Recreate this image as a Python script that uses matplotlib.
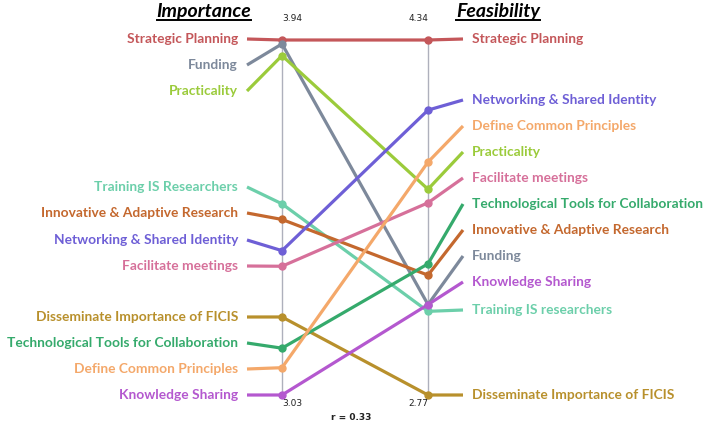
import matplotlib
matplotlib.use("Agg")
import matplotlib.pyplot as plt
from matplotlib.lines import Line2D

# ---- data ----
categories = ["Strategic Planning", "Funding", "Practicality", "Training IS Researchers",
              "Innovative & Adaptive Research", "Networking & Shared Identity",
              "Facilitate meetings", "Disseminate Importance of FICIS",
              "Technological Tools for Collaboration", "Define Common Principles",
              "Knowledge Sharing"]
right_names = ["Strategic Planning", "Funding", "Practicality", "Training IS researchers",
               "Innovative & Adaptive Research", "Networking & Shared Identity",
               "Facilitate meetings", "Disseminate Importance of FICIS",
               "Technological Tools for Collaboration", "Define Common Principles",
               "Knowledge Sharing"]
importance = [3.94, 3.93, 3.90, 3.52, 3.48, 3.40, 3.36, 3.23, 3.15, 3.10, 3.03]
feasibility = [4.34, 3.17, 3.68, 3.14, 3.30, 4.03, 3.62, 2.77, 3.35, 3.80, 3.17]
r_value = 0.33

colors = ["#C4575A", "#7D899B", "#9BCB3B", "#6CCFAA", "#C4682E", "#6E5FD6",
          "#D6709A", "#B8902C", "#35AA6C", "#F4A86A", "#B458CF"]

# ---- layout (text label rows, in pixels from top) ----
left_label_px = [39, 65, 91, 187, 213, 240, 266, 317, 343, 369, 395]
right_label_px = [39, 256, 152, 310, 230, 100, 178, 395, 204, 126, 282]

W, H = 708, 422
fig = plt.figure(figsize=(W / 100, H / 100), dpi=100)
axL, axR, ytop, ybot = 282, 428, 40, 395
ax = fig.add_axes([axL / W, (H - ybot) / H, (axR - axL) / W, (ybot - ytop) / H])
ax.set_xlim(0, 1)
ax.set_ylim(0, 1)
ax.axis("off")

lmin, lmax = min(importance), max(importance)
rmin, rmax = min(feasibility), max(feasibility)
def nl(v): return (v - lmin) / (lmax - lmin)
def nr(v): return (v - rmin) / (rmax - rmin)
def px2y(p): return (ybot - p) / (ybot - ytop)

pxw = axR - axL
stub = 35 / pxw
gap = 9 / pxw

# axis lines
ax.plot([0, 0], [0, 1], color="#AEB0BC", lw=1.0, zorder=1, clip_on=False)
ax.plot([1, 1], [0, 1], color="#AEB0BC", lw=1.0, zorder=1, clip_on=False)

fam = ["Lato", "DejaVu Sans"]
for i, name in enumerate(categories):
    c = colors[i]
    yl = nl(importance[i])
    yr = nr(feasibility[i])
    ly = px2y(left_label_px[i])
    ry = px2y(right_label_px[i])
    ax.plot([-stub, 0, 1, 1 + stub], [ly, yl, yr, ry], color=c, lw=2.3,
            solid_capstyle="butt", zorder=2, clip_on=False)
    ax.plot([0, 1], [yl, yr], ls="none", marker="o", ms=5, color=c, zorder=3, clip_on=False)
    ax.text(-stub - gap, ly, name, ha="right", va="center", color=c, fontsize=9.9,
            fontweight="bold", family=fam, clip_on=False)
    ax.text(1 + stub + gap, ry, right_names[i], ha="left", va="center", color=c,
            fontsize=9.9, fontweight="bold", family=fam, clip_on=False)

# value labels
num_kw = dict(fontsize=6.5, color="#222222", family="DejaVu Sans")
ax.text(0, px2y(18), f"{lmax:.2f}", ha="left", va="center", **num_kw)
ax.text(0, px2y(404), f"{lmin:.2f}", ha="left", va="center", **num_kw)
ax.text(1, px2y(18), f"{rmax:.2f}", ha="right", va="center", **num_kw)
ax.text(1, px2y(404), f"{rmin:.2f}", ha="right", va="center", **num_kw)
ax.text((351 - axL) / pxw, px2y(418), f"r = {r_value:.2f}", ha="center", va="center",
        fontsize=6.5, fontweight="bold", color="#222222", family="DejaVu Sans")

# titles
t1 = fig.text(204 / W, 1 - 11 / H, "Importance", ha="center", va="center",
              fontsize=14, fontweight="bold", style="italic", family=fam)
t2 = fig.text(498 / W, 1 - 11 / H, "Feasibility", ha="center", va="center",
              fontsize=14, fontweight="bold", style="italic", family=fam)
fig.canvas.draw()
r = fig.canvas.get_renderer()
for t in (t1, t2):
    bb = t.get_window_extent(renderer=r).transformed(fig.transFigure.inverted())
    fig.add_artist(Line2D([bb.x0, bb.x1], [bb.y0 - 0.5 / H, bb.y0 - 0.5 / H],
                          color="black", lw=1.4, transform=fig.transFigure))

fig.savefig("out.png", dpi=100)
